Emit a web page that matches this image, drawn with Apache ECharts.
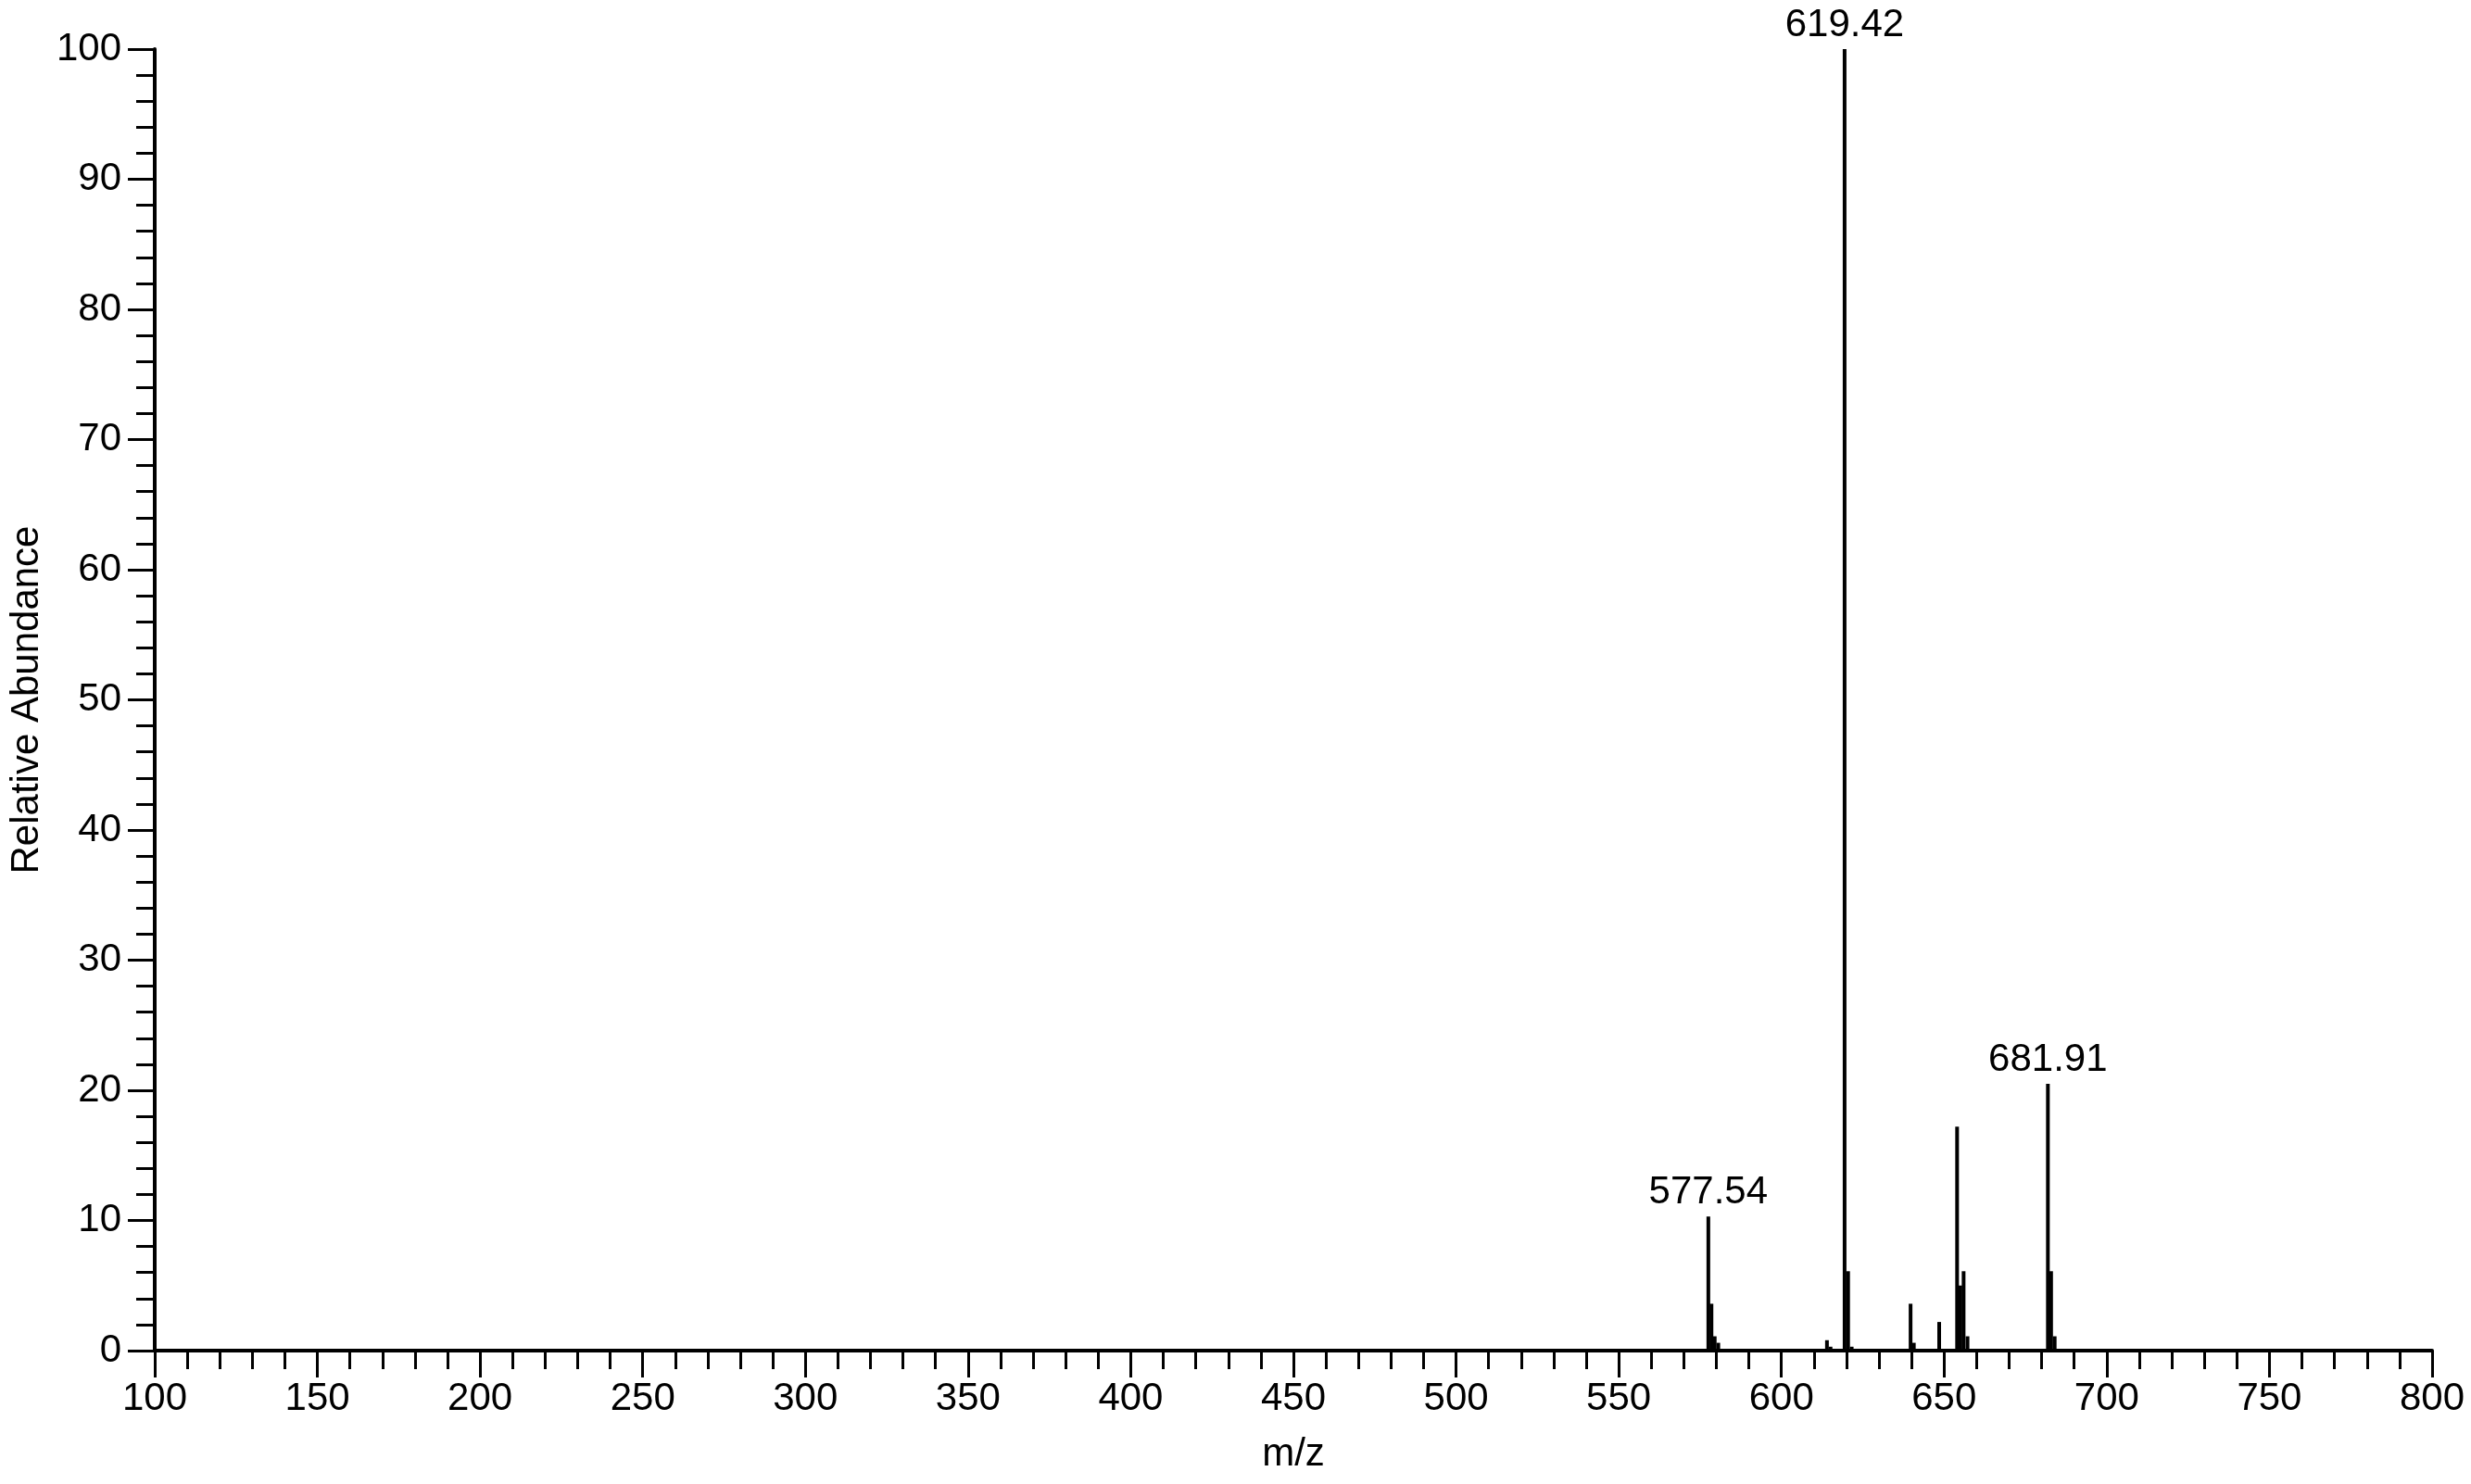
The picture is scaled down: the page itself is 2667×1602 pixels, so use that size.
<!DOCTYPE html>
<html>
<head>
<meta charset="utf-8">
<title>Mass spectrum</title>
<script src="https://cdn.jsdelivr.net/npm/echarts@6/dist/echarts.min.js"></script>
<style>
  html, body { margin: 0; padding: 0; background: #fff; }
  #chart { width: 2667px; height: 1602px; }
</style>
</head>
<body>
<div id="chart"></div>
<script>
// peak positions (m/z) and their relative abundance (%)
const mzValues = [
  577.54, 578.5, 579.5, 580.6,
  614.0, 615.1,
  619.42, 620.5, 621.6,
  639.7, 640.7,
  648.5,
  654.0, 655.0, 656.0, 657.2,
  681.91, 682.9, 684.0
];
const abundance = [
  10.3, 3.6, 1.1, 0.6,
  0.8, 0.3,
  100, 6.1, 0.3,
  3.6, 0.6,
  2.2,
  17.2, 5.0, 6.1, 1.1,
  20.5, 6.1, 1.1
];
// peaks that carry an m/z annotation
const labeledPeaks = [577.54, 619.42, 681.91];

const xTicks = { min: 100, max: 800, step: 50 };
const yTicks = { min: 0, max: 100, step: 10 };

const font = 'Liberation Sans, Arial, sans-serif';

const chart = echarts.init(document.getElementById('chart'));

const seriesData = mzValues.map((mz, i) => {
  const item = { value: [mz, abundance[i]] };
  if (labeledPeaks.includes(mz)) {
    item.label = {
      show: true,
      position: 'top',
      distance: 5,
      formatter: mz.toFixed(2),
      color: '#000',
      fontSize: 42,
      fontFamily: font
    };
  }
  return item;
});

const axisCommon = {
  axisLine: { show: true, onZero: false, lineStyle: { color: '#000', width: 4 } },
  axisTick: { show: true, inside: false, length: 29, lineStyle: { color: '#000', width: 3 } },
  minorTick: { show: true, splitNumber: 5, length: 20, lineStyle: { color: '#000', width: 3 } },
  splitLine: { show: false },
  minorSplitLine: { show: false },
  axisLabel: { color: '#000', fontSize: 42, fontFamily: font },
  nameTextStyle: { color: '#000', fontSize: 42, fontFamily: font }
};

const option = {
  backgroundColor: '#fff',
  animation: false,
  grid: { left: 167, right: 42, top: 53, bottom: 144, containLabel: false },
  xAxis: Object.assign({}, axisCommon, {
    type: 'value',
    min: xTicks.min,
    max: xTicks.max,
    interval: xTicks.step,
    name: 'm/z',
    nameLocation: 'middle',
    nameGap: 91,
    axisLabel: Object.assign({}, axisCommon.axisLabel, { margin: 31 })
  }),
  yAxis: Object.assign({}, axisCommon, {
    type: 'value',
    min: yTicks.min,
    max: yTicks.max,
    interval: yTicks.step,
    name: 'Relative Abundance',
    nameLocation: 'middle',
    nameGap: 112,
    axisLabel: Object.assign({}, axisCommon.axisLabel, { margin: 36 })
  }),
  series: [
    {
      type: 'bar',
      barWidth: 4,
      itemStyle: { color: '#000' },
      data: seriesData
    }
  ]
};

chart.setOption(option);
</script>
</body>
</html>
